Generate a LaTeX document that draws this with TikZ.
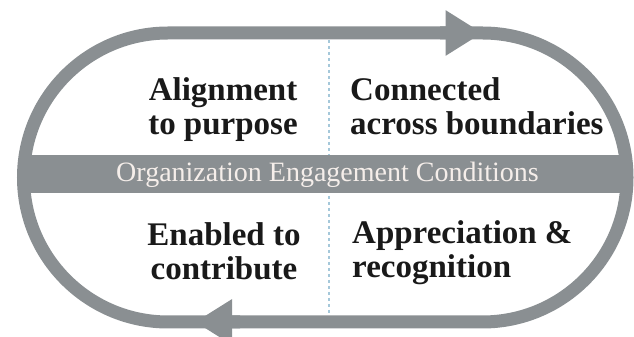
\documentclass[tikz,border=0pt]{standalone}
\usepackage{fontspec}
\setmainfont{Liberation Serif}
\usepackage{tikz}
\usetikzlibrary{arrows.meta}
\definecolor{loopgray}{RGB}{138,143,146}
\definecolor{bandtext}{RGB}{245,238,234}
\definecolor{divblue}{RGB}{165,200,218}

\begin{document}
\begin{tikzpicture}[x=1pt, y=1pt,
  cycleline/.style={draw=loopgray, line width=13pt, -{Triangle[length=37pt, width=43pt]}},
  divider/.style={draw=divblue, line width=1.5pt, dash pattern=on 3pt off 3pt},
  quadrant/.style={inner sep=0pt, font=\fontsize{33}{34}\selectfont\bfseries, text=black!90},
  bandlabel/.style={inner sep=0pt, font=\fontsize{28}{28}\selectfont, text=bandtext}]
  \useasboundingbox (0,0) rectangle (634,337);
  % ends of the two half loops
  \coordinate (botstart) at (240,15);
  \coordinate (topend) at (482.5,304);
  \coordinate (topstart) at (440,304);
  \coordinate (botend) at (195,15);
  \coordinate (divtop) at (329,297);
  \coordinate (divbot) at (329,22);
  \draw[divider] (divtop) -- (divbot);
  \fill[loopgray] (24,144) rectangle (625,182);
  \draw[cycleline] (botstart) -- (168,15) arc[start angle=-90, end angle=-270, radius=144.5] -- (topend);
  \draw[cycleline] (topstart) -- (482.5,304) arc[start angle=90, end angle=-90, radius=144.5] -- (botend);
  \node[bandlabel, anchor=base] (band) at (327.5,155) {Organization Engagement Conditions};
  % base anchor sits on the last line
  \node[quadrant, anchor=base, align=center] (align) at (223,202) {Alignment\\to purpose};
  \node[quadrant, anchor=base west, align=left] (connect) at (350,202) {Connected\\across boundaries};
  \node[quadrant, anchor=base, align=center] (enable) at (224,57) {Enabled to\\contribute};
  \node[quadrant, anchor=base west, align=left] (appreciate) at (352,59) {Appreciation \&\\recognition};
\end{tikzpicture}
\end{document}
